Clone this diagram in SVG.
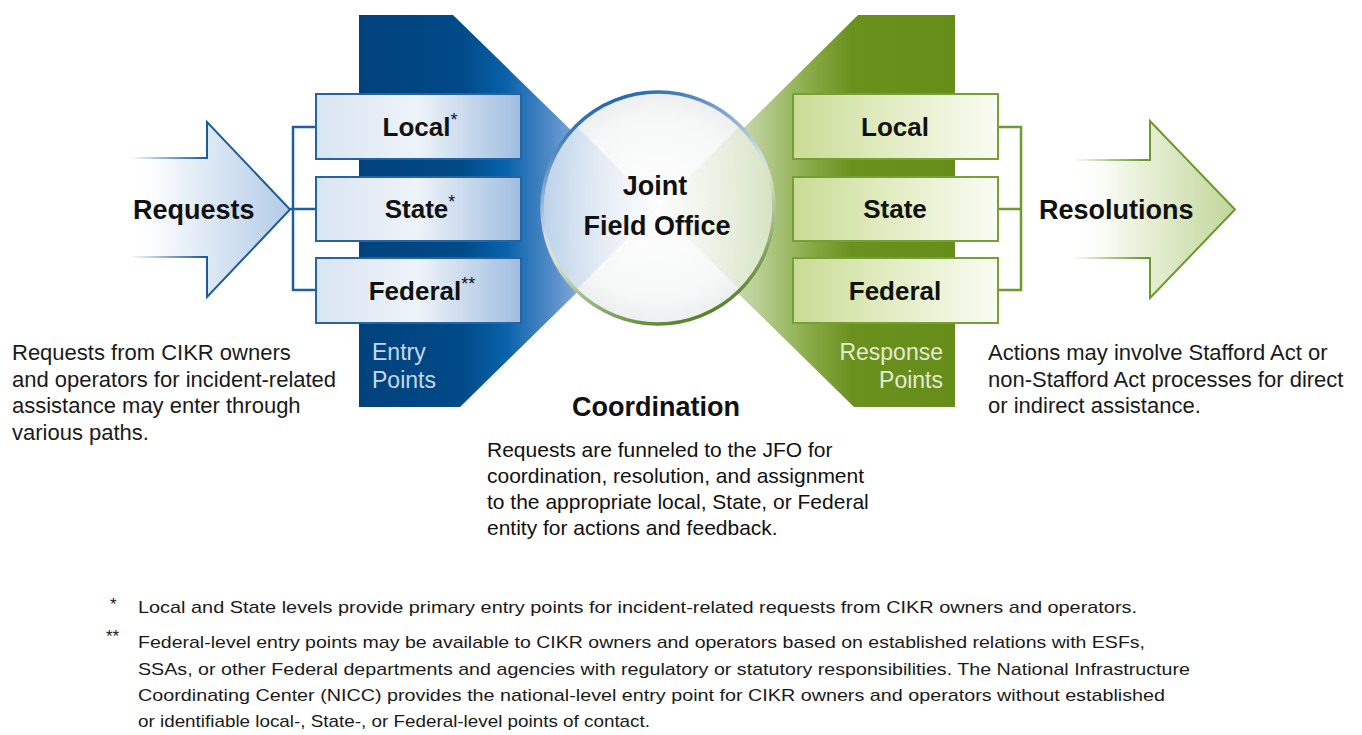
<svg xmlns="http://www.w3.org/2000/svg" width="1362" height="735" viewBox="0 0 1362 735">
<defs>
<style>
.t{font-family:"Liberation Sans",Arial,sans-serif;fill:#111}
.b{font-weight:bold}
.p{font-size:22px;fill:#1a1a1a}
.fn{font-size:17px;fill:#1a1a1a}
.bx{font-size:26px;font-weight:bold;text-anchor:middle}
.sup{font-size:18px;font-weight:normal}
.bbox{fill:url(#gBlueBox);stroke:#2763a0;stroke-width:2}
.gbox{fill:url(#gGreenBox);stroke:#74a034;stroke-width:2}
</style>
<linearGradient id="gBlueFun" gradientUnits="userSpaceOnUse" x1="359" y1="0" x2="605" y2="0">
<stop offset="0" stop-color="#00427c"/><stop offset="0.42" stop-color="#004a88"/><stop offset="0.6" stop-color="#0862ab"/><stop offset="0.8" stop-color="#5b90cb"/><stop offset="1" stop-color="#b0c9e6"/>
</linearGradient>
<linearGradient id="gGreenFun" gradientUnits="userSpaceOnUse" x1="955" y1="0" x2="710" y2="0">
<stop offset="0" stop-color="#668c19"/><stop offset="0.42" stop-color="#6a901d"/><stop offset="0.6" stop-color="#8aac4a"/><stop offset="0.8" stop-color="#b8ce92"/><stop offset="1" stop-color="#dde7ca"/>
</linearGradient>
<linearGradient id="gBlueBox" x1="0" y1="0" x2="1" y2="0">
<stop offset="0" stop-color="#d9e5f2"/><stop offset="0.5" stop-color="#eef3f9"/><stop offset="1" stop-color="#9fbde0"/>
</linearGradient>
<linearGradient id="gGreenBox" x1="0" y1="0" x2="1" y2="0">
<stop offset="0" stop-color="#c9dc95"/><stop offset="0.5" stop-color="#e3edc5"/><stop offset="1" stop-color="#fafcf3"/>
</linearGradient>
<linearGradient id="gReqFill" gradientUnits="userSpaceOnUse" x1="130" y1="0" x2="290" y2="0">
<stop offset="0" stop-color="#ffffff" stop-opacity="0"/><stop offset="0.3" stop-color="#edf3f9"/><stop offset="1" stop-color="#b3cce8"/>
</linearGradient>
<linearGradient id="gReqStroke" gradientUnits="userSpaceOnUse" x1="130" y1="0" x2="205" y2="0">
<stop offset="0" stop-color="#1d5c9a" stop-opacity="0"/><stop offset="1" stop-color="#1d5c9a"/>
</linearGradient>
<linearGradient id="gResFill" gradientUnits="userSpaceOnUse" x1="1072" y1="0" x2="1235" y2="0">
<stop offset="0" stop-color="#ffffff" stop-opacity="0"/><stop offset="0.35" stop-color="#eef4e2"/><stop offset="1" stop-color="#c1d69a"/>
</linearGradient>
<linearGradient id="gResStroke" gradientUnits="userSpaceOnUse" x1="1072" y1="0" x2="1145" y2="0">
<stop offset="0" stop-color="#6a9a2a" stop-opacity="0"/><stop offset="1" stop-color="#6a9a2a"/>
</linearGradient>
<radialGradient id="gCircle" cx="0.5" cy="0.5" r="0.5">
<stop offset="0" stop-color="#ffffff"/><stop offset="0.8" stop-color="#f6f7f7"/><stop offset="1" stop-color="#eceeef"/>
</radialGradient>
<linearGradient id="gWedgeL" gradientUnits="userSpaceOnUse" x1="540" y1="0" x2="658" y2="0">
<stop offset="0" stop-color="#b9d0ea"/><stop offset="1" stop-color="#eef3f9" stop-opacity="0.2"/>
</linearGradient>
<linearGradient id="gWedgeR" gradientUnits="userSpaceOnUse" x1="776" y1="0" x2="658" y2="0">
<stop offset="0" stop-color="#d6e3c1"/><stop offset="1" stop-color="#f1f5ea" stop-opacity="0.2"/>
</linearGradient>
<linearGradient id="gRing" x1="0.3" y1="0" x2="0.7" y2="1">
<stop offset="0" stop-color="#1a63aa"/><stop offset="0.45" stop-color="#d3dde8"/><stop offset="0.55" stop-color="#d8e2cc"/><stop offset="1" stop-color="#4a7d1c"/>
</linearGradient>
<clipPath id="cCircle"><circle cx="658" cy="208" r="116"/></clipPath>
</defs>
<rect width="1362" height="735" fill="#ffffff"/>

<g id="entry-funnel">
<polygon points="359,15 453,15 657,214 460,407 359,407" fill="url(#gBlueFun)"/>
<text class="t" x="372" y="360" font-size="23" style="fill:#c9d8ea">Entry</text>
<text class="t" x="372" y="388" font-size="23" style="fill:#c9d8ea">Points</text>
</g>
<g id="response-funnel">
<polygon points="955,15 858,15 657,214 854,407 955,407" fill="url(#gGreenFun)"/>
<text class="t" x="943" y="360" font-size="23" text-anchor="end" style="fill:#e4ecd3">Response</text>
<text class="t" x="943" y="388" font-size="23" text-anchor="end" style="fill:#e4ecd3">Points</text>
</g>

<g id="connectors" fill="none" stroke-width="2.5">
<path d="M316,127 H293 V290 H316 M290,209 H316" stroke="#1f5f9e"/>
<path d="M998,127 H1021 V290 H998 M998,209 H1021" stroke="#6e9a2e"/>
</g>

<g id="requests">
<path d="M130,158 H207 V122 L290,209.5 L207,297 V257 H130 Z" fill="url(#gReqFill)"/>
<path d="M130,158 H207 V122 L290,209.5 L207,297 V257 H130" fill="none" stroke="url(#gReqStroke)" stroke-width="2"/>
<text class="t b" x="133" y="219" font-size="27">Requests</text>
</g>

<g id="entry-local"><rect class="bbox" x="316" y="94" width="205" height="65"/><text class="t bx" x="420" y="136">Local<tspan class="sup" dy="-10">*</tspan></text></g>
<g id="entry-state"><rect class="bbox" x="316" y="177" width="205" height="64"/><text class="t bx" x="420" y="218">State<tspan class="sup" dy="-10">*</tspan></text></g>
<g id="entry-federal"><rect class="bbox" x="316" y="258" width="205" height="65"/><text class="t bx" x="422" y="300">Federal<tspan class="sup" dy="-10">**</tspan></text></g>

<g id="jfo">
<circle cx="658" cy="208" r="116" fill="url(#gCircle)"/>
<g clip-path="url(#cCircle)">
<polygon points="658,208 540,90 540,326" fill="url(#gWedgeL)"/>
<polygon points="658,208 776,90 776,326" fill="url(#gWedgeR)"/>
</g>
<circle cx="658" cy="208" r="116" fill="none" stroke="url(#gRing)" stroke-width="3.5"/>
<text class="t b" x="655" y="195" font-size="27" text-anchor="middle">Joint</text>
<text class="t b" x="657" y="235" font-size="27" text-anchor="middle">Field Office</text>
</g>

<g id="response-local"><rect class="gbox" x="793" y="94" width="205" height="65"/><text class="t bx" x="895" y="136">Local</text></g>
<g id="response-state"><rect class="gbox" x="793" y="177" width="205" height="64"/><text class="t bx" x="895" y="218">State</text></g>
<g id="response-federal"><rect class="gbox" x="793" y="258" width="205" height="65"/><text class="t bx" x="895" y="300">Federal</text></g>

<g id="resolutions">
<path d="M1072,160 H1150 V121 L1235,209.5 L1150,298 V258 H1072 Z" fill="url(#gResFill)"/>
<path d="M1072,160 H1150 V121 L1235,209.5 L1150,298 V258 H1072" fill="none" stroke="url(#gResStroke)" stroke-width="2"/>
<text class="t b" x="1039" y="219" font-size="27">Resolutions</text>
</g>

<g id="requests-note">
<text class="t p" x="12" y="360">Requests from CIKR owners</text>
<text class="t p" x="12" y="387">and operators for incident-related</text>
<text class="t p" x="12" y="413">assistance may enter through</text>
<text class="t p" x="12" y="440">various paths.</text>
</g>

<g id="coordination">
<text class="t b" x="656" y="416" font-size="27" text-anchor="middle">Coordination</text>
<text class="t" x="487" y="457" font-size="21">Requests are funneled to the JFO for</text>
<text class="t" x="487" y="483" font-size="21">coordination, resolution, and assignment</text>
<text class="t" x="487" y="509" font-size="21">to the appropriate local, State, or Federal</text>
<text class="t" x="487" y="535" font-size="21">entity for actions and feedback.</text>
</g>

<g id="resolutions-note">
<text class="t p" x="988" y="360">Actions may involve Stafford Act or</text>
<text class="t p" x="988" y="387">non-Stafford Act processes for direct</text>
<text class="t p" x="988" y="413">or indirect assistance.</text>
</g>

<g id="footnotes">
<text class="t fn" x="110" y="610">*</text>
<text class="t fn" x="138" y="613" textLength="999" lengthAdjust="spacingAndGlyphs">Local and State levels provide primary entry points for incident-related requests from CIKR owners and operators.</text>
<text class="t fn" x="106" y="642">**</text>
<text class="t fn" x="138" y="648" textLength="1007" lengthAdjust="spacingAndGlyphs">Federal-level entry points may be available to CIKR owners and operators based on established relations with ESFs,</text>
<text class="t fn" x="138" y="675" textLength="1052" lengthAdjust="spacingAndGlyphs">SSAs, or other Federal departments and agencies with regulatory or statutory responsibilities.  The National Infrastructure</text>
<text class="t fn" x="138" y="701" textLength="1027" lengthAdjust="spacingAndGlyphs">Coordinating Center (NICC) provides the national-level entry point for CIKR owners and operators without established</text>
<text class="t fn" x="138" y="727" textLength="512" lengthAdjust="spacingAndGlyphs">or identifiable local-, State-, or Federal-level points of contact.</text>
</g>
</svg>
